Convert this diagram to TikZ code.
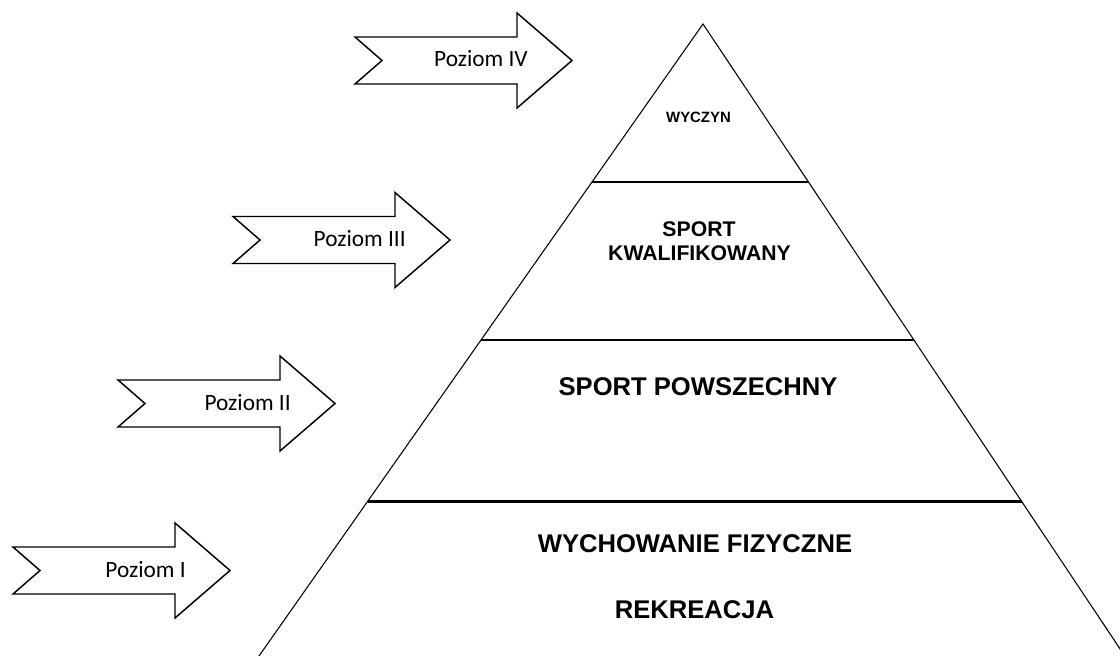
\documentclass[tikz,border=0pt]{standalone}
\usepackage{fontspec}
\setmainfont{Liberation Sans}
\newfontfamily\calfont{Carlito}
\usetikzlibrary{calc}
\tikzset{
  edge/.style={line width=0.8pt, black},
  tier/.style={line width=1.6pt, black},
  lvlarrow/.style={line width=1.1pt, black, line join=miter},
  poz/.style={font=\calfont\fontsize{17.5}{20}\selectfont, inner sep=0pt, anchor=base east},
  lbl/.style={font=\bfseries\fontsize{19.2}{22}\selectfont, inner sep=0pt, anchor=base},
  lblmid/.style={font=\bfseries\fontsize{15.9}{18}\selectfont, inner sep=0pt, anchor=base},
  lbltop/.style={font=\bfseries\fontsize{11.2}{13}\selectfont, inner sep=0pt, anchor=base}
}
\newcommand\levelarrow[4]{%
  \draw[lvlarrow] ({#1},{#2-23.5}) -- ({#1+162},{#2-23.5}) -- ({#1+162},{#2-47.5})
    -- ({#1+217},{#2}) -- ({#1+162},{#2+47.5}) -- ({#1+162},{#2+23.5})
    -- ({#1},{#2+23.5}) -- ({#1+27},{#2}) -- cycle;
  \node[poz] (#3) at ({#1+173},{#2+6.5}) {#4};}
\begin{document}
\begin{tikzpicture}[x=0.75pt,y=-0.75pt]
\useasboundingbox (0,0) rectangle (1120,656);
\begin{scope}
\clip (0,0) rectangle (1120,656);
\coordinate (A) at (703,24);
\coordinate (BL) at (259,656);
\coordinate (BR) at (1124.8,656);
\draw[edge] (BL) -- (A) -- (BR);
\draw[tier] ($(A)!0.25!(BL)$) -- ($(A)!0.25!(BR)$);
\draw[tier] ($(A)!0.5!(BL)$) -- ($(A)!0.5!(BR)$);
\draw[tier] ($(A)!0.7555!(BL)$) -- ($(A)!0.7555!(BR)$);
\end{scope}
\node[lbltop] (wyczyn) at (698.5,123) {WYCZYN};
\node[lblmid] (sport) at (699,236) {SPORT};
\node[lblmid] (kwal) at (699.5,260) {KWALIFIKOWANY};
\node[lbl] (powsz) at (698,395) {SPORT POWSZECHNY};
\node[lbl] (wych) at (695,552) {WYCHOWANIE FIZYCZNE};
\node[lbl] (rekr) at (694.5,618) {REKREACJA};
\levelarrow{355}{60.5}{p4}{Poziom IV}
\levelarrow{233}{240}{p3}{Poziom III}
\levelarrow{118}{403.5}{p2}{Poziom II}
\levelarrow{13}{570.5}{p1}{Poziom I}
\end{tikzpicture}
\end{document}
